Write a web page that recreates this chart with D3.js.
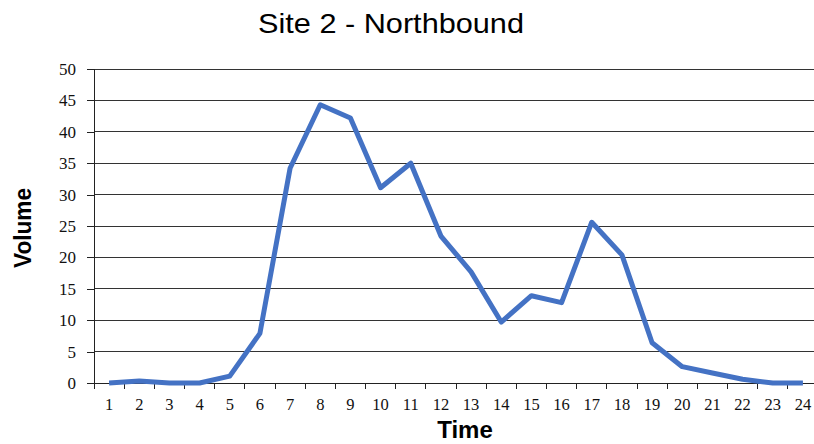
<!DOCTYPE html>
<html>
<head>
<meta charset="utf-8">
<script src="https://cdn.jsdelivr.net/npm/d3@7"></script>
<style>
  body { margin: 0; background: #fff; }
  svg { display: block; }
</style>
</head>
<body>
<svg id="chart" width="814" height="444"></svg>
<script>
// Hourly volume, Site 2 northbound
const hours = ["1","2","3","4","5","6","7","8","9","10","11","12","13","14","15","16","17","18","19","20","21","22","23","24"];
const volume = [0, 0.3, 0, 0, 1.1, 7.9, 34.2, 44.3, 42.2, 31.1, 35.0, 23.4, 17.7, 9.7, 13.9, 12.8, 25.6, 20.4, 6.4, 2.6, 1.6, 0.6, 0, 0];
const yTicks = [0, 5, 10, 15, 20, 25, 30, 35, 40, 45, 50];

const svg = d3.select("#chart");
const W = 814, H = 444;
const plotLeft = 94, plotRight = 818, plotTop = 69, plotBottom = 383;

const x = d3.scaleBand().domain(hours).range([plotLeft, plotRight]);
const y = d3.scaleLinear().domain([0, 50]).range([plotBottom, plotTop]);

const serif = "'Liberation Serif', 'Times New Roman', serif";
const sans = "'Liberation Sans', Arial, sans-serif";

// Horizontal gridlines
svg.append("g")
  .selectAll("line")
  .data(yTicks.filter(d => d > 0))
  .join("line")
  .attr("x1", plotLeft).attr("x2", W)
  .attr("y1", d => y(d)).attr("y2", d => y(d))
  .attr("stroke", "#333").attr("stroke-width", 1)
  .attr("shape-rendering", "crispEdges");

// Y axis
const yAxis = svg.append("g")
  .attr("transform", `translate(${plotLeft},0)`)
  .call(d3.axisLeft(y).tickValues(yTicks).tickSize(7).tickPadding(11));
yAxis.selectAll("text")
  .attr("font-family", serif)
  .attr("font-size", 17).attr("fill", "#111");
yAxis.selectAll("line, path").attr("stroke", "#222").attr("shape-rendering", "crispEdges");

// X axis: ticks fall between categories
const xAxisG = svg.append("g")
  .attr("transform", `translate(0,${y(0)})`);
xAxisG.append("line")
  .attr("x1", plotLeft).attr("x2", W)
  .attr("stroke", "#222").attr("shape-rendering", "crispEdges");
const bounds = hours.map(h => x(h)).concat([x(hours[hours.length - 1]) + x.bandwidth()]);
xAxisG.selectAll("line.tick")
  .data(bounds)
  .join("line")
  .attr("class", "tick")
  .attr("x1", d => d).attr("x2", d => d)
  .attr("y1", 0).attr("y2", 6)
  .attr("stroke", "#222").attr("shape-rendering", "crispEdges");
xAxisG.selectAll("text")
  .data(hours)
  .join("text")
  .attr("x", d => x(d) + x.bandwidth() / 2)
  .attr("y", 27)
  .attr("text-anchor", "middle")
  .attr("font-family", serif)
  .attr("font-size", 16.5).attr("fill", "#111")
  .text(d => d);

// Data line
const line = d3.line()
  .x((d, i) => x(hours[i]) + x.bandwidth() / 2)
  .y(d => y(d));
svg.append("path")
  .datum(volume)
  .attr("d", line)
  .attr("fill", "none")
  .attr("stroke", "#4472C4")
  .attr("stroke-width", 5)
  .attr("stroke-linejoin", "round");

// Titles
svg.append("text")
  .attr("x", 391).attr("y", 33)
  .attr("text-anchor", "middle")
  .attr("font-family", sans)
  .attr("font-size", 28.5)
  .attr("textLength", 266)
  .attr("lengthAdjust", "spacingAndGlyphs")
  .attr("fill", "#000")
  .text("Site 2 - Northbound");

svg.append("text")
  .attr("x", 465).attr("y", 438)
  .attr("text-anchor", "middle")
  .attr("font-family", sans)
  .attr("font-weight", "bold")
  .attr("font-size", 24).attr("fill", "#000")
  .text("Time");

svg.append("text")
  .attr("transform", "translate(31,228) rotate(-90)")
  .attr("text-anchor", "middle")
  .attr("font-family", sans)
  .attr("font-weight", "bold")
  .attr("font-size", 24)
  .attr("textLength", 80)
  .attr("lengthAdjust", "spacingAndGlyphs")
  .attr("fill", "#000")
  .text("Volume");
</script>
</body>
</html>
